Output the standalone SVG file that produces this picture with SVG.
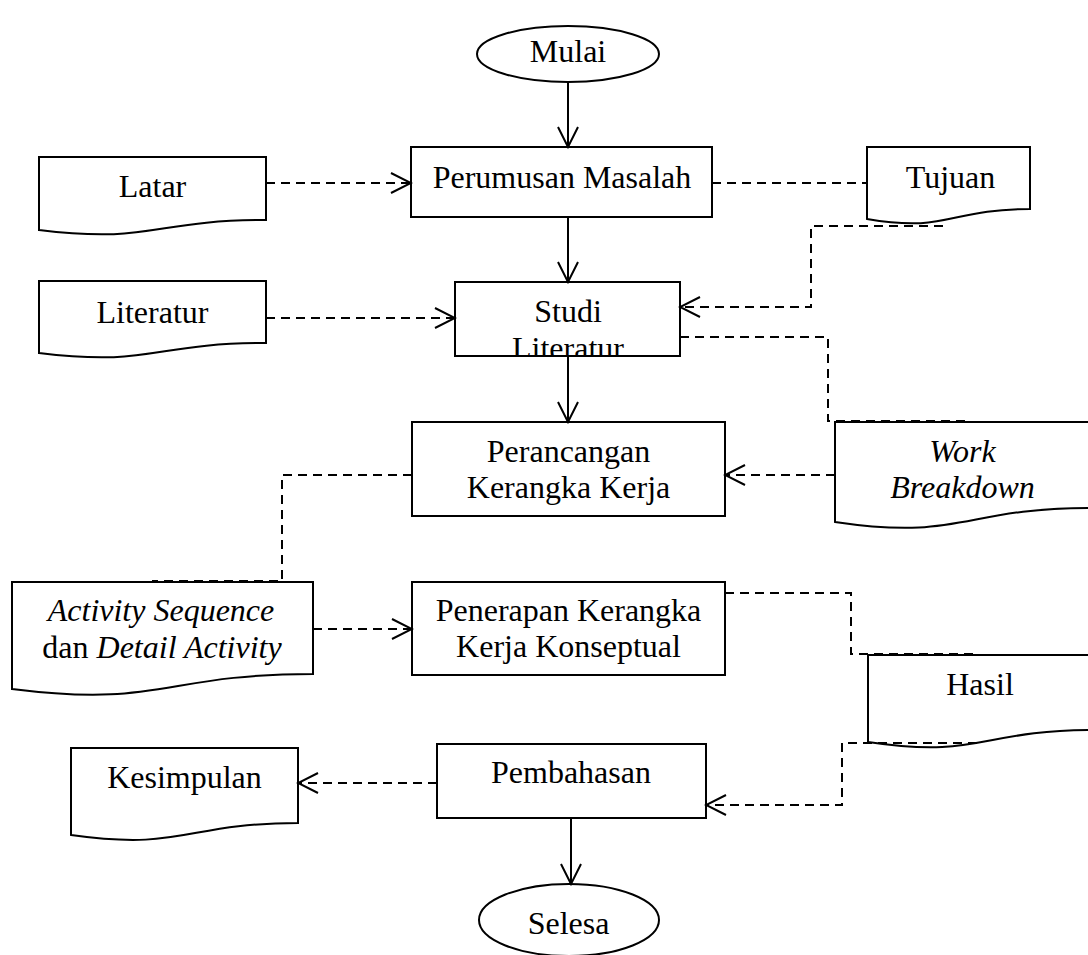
<svg xmlns="http://www.w3.org/2000/svg" width="1088" height="955" viewBox="0 0 1088 955">
  <style>
    .box { fill: #fff; stroke: #000; stroke-width: 2; }
    .lbl { font-family: "Liberation Serif", "Times New Roman", serif; font-size: 32px; fill: #000; text-anchor: middle; }
    .it { font-style: italic; }
    .flow { fill: none; stroke: #000; stroke-width: 2; }
    .dash { fill: none; stroke: #000; stroke-width: 2; stroke-dasharray: 9 6; }
  </style>
  <defs>
    <marker id="head" viewBox="-22 -12 24 24" refX="0" refY="0" markerWidth="24" markerHeight="24" markerUnits="userSpaceOnUse" orient="auto">
      <path d="M-20,-10 L0,0 L-20,10" fill="none" stroke="#000" stroke-width="2" stroke-dasharray="none"/>
    </marker>
    <clipPath id="studiClip">
      <rect x="456" y="283" width="223" height="72"/>
    </clipPath>
  </defs>
  <rect width="1088" height="955" fill="#fff"/>

  <!-- process nodes -->
  <g id="mulai">
    <ellipse class="box" cx="568" cy="54" rx="91" ry="28"/>
    <text class="lbl" x="568" y="62">Mulai</text>
  </g>
  <g id="perumusan">
    <rect class="box" x="411" y="147" width="301" height="70"/>
    <text class="lbl" x="562" y="188">Perumusan Masalah</text>
  </g>
  <g id="studi">
    <rect class="box" x="455" y="282" width="225" height="74"/>
    <text class="lbl" clip-path="url(#studiClip)" x="568" y="322">Studi<tspan x="568" y="358.5">Literatur</tspan></text>
  </g>
  <g id="perancangan">
    <rect class="box" x="412" y="422" width="313" height="94"/>
    <text class="lbl" x="568.5" y="462">Perancangan<tspan x="568.5" y="498">Kerangka Kerja</tspan></text>
  </g>
  <g id="penerapan">
    <rect class="box" x="412" y="582" width="313" height="93"/>
    <text class="lbl" x="568.5" y="621">Penerapan Kerangka<tspan x="568.5" y="657">Kerja Konseptual</tspan></text>
  </g>
  <g id="pembahasan">
    <rect class="box" x="437" y="744" width="269" height="74"/>
    <text class="lbl" x="571" y="783">Pembahasan</text>
  </g>
  <g id="selesa">
    <ellipse class="box" cx="569" cy="920" rx="90" ry="36"/>
    <text class="lbl" x="568.5" y="934">Selesa</text>
  </g>

  <!-- document nodes (wavy bottom edge) -->
  <g id="latar">
    <path class="box" d="M39,157 H266 V220 C152.5,220 152.5,244 39,230 Z"/>
    <text class="lbl" x="152.5" y="197">Latar</text>
  </g>
  <g id="literatur">
    <path class="box" d="M39,281 H266 V343 C152.5,343 152.5,367 39,353 Z"/>
    <text class="lbl" x="152.5" y="323">Literatur</text>
  </g>
  <g id="tujuan">
    <path class="box" d="M867,147 H1030 V209 C948.5,209 948.5,233 867,219 Z"/>
    <text class="lbl" x="950.5" y="188">Tujuan</text>
  </g>
  <g id="work-breakdown">
    <path class="box" d="M835,422 H1090 V508 C962.5,508 962.5,541 835,522 Z"/>
    <text class="lbl it" x="962.5" y="462">Work<tspan x="962.5" y="498">Breakdown</tspan></text>
  </g>
  <g id="activity">
    <path class="box" d="M12,582 H313 V674 C162.5,674 162.5,708 12,689 Z"/>
    <text class="lbl" x="161" y="621"><tspan class="it">Activity Sequence</tspan></text>
    <text class="lbl" x="162" y="658">dan <tspan class="it">Detail Activity</tspan></text>
  </g>
  <g id="hasil">
    <path class="box" d="M868,655 H1093 V730 C980.5,730 980.5,759 868,742 Z"/>
    <text class="lbl" x="980" y="695">Hasil</text>
  </g>
  <g id="kesimpulan">
    <path class="box" d="M71,748 H298 V823 C184.5,823 184.5,851 71,835 Z"/>
    <text class="lbl" x="184.5" y="788">Kesimpulan</text>
  </g>

  <!-- connectors -->
  <g id="connectors">
    <!-- main flow -->
    <line class="flow" x1="568" y1="82" x2="568" y2="147" marker-end="url(#head)"/>
    <line class="flow" x1="568" y1="217" x2="568" y2="282" marker-end="url(#head)"/>
    <line class="flow" x1="568" y1="356" x2="568" y2="422" marker-end="url(#head)"/>
    <line class="flow" x1="571" y1="818" x2="571" y2="884" marker-end="url(#head)"/>

    <!-- dashed data links -->
    <path class="dash" d="M266,183 H411" marker-end="url(#head)"/>
    <path class="dash" d="M712,183 H867"/>
    <path class="dash" d="M266,318 H455" marker-end="url(#head)"/>
    <path class="dash" d="M943,226 H811 V307 H680" marker-end="url(#head)"/>
    <path class="dash" d="M680,337 H828 V421 H970"/>
    <path class="dash" d="M835,475 H725" marker-end="url(#head)"/>
    <path class="dash" d="M412,475 H282 V581 H152"/>
    <path class="dash" d="M313,629 H412" marker-end="url(#head)"/>
    <path class="dash" d="M725,593 H851 V654 H977"/>
    <path class="dash" d="M977,743 H842 V805 H706" marker-end="url(#head)"/>
    <path class="dash" d="M437,783 H298" marker-end="url(#head)"/>
  </g>
</svg>
